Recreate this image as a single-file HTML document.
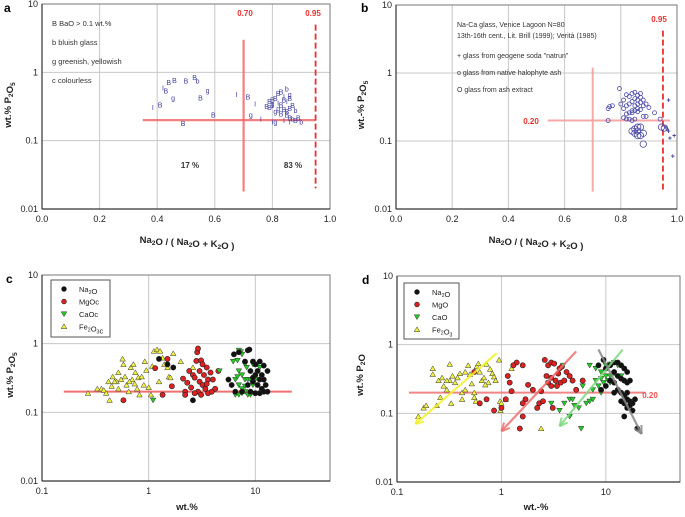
<!DOCTYPE html>
<html><head><meta charset="utf-8"><style>
body{margin:0;background:#fff;}
svg{display:block;font-family:"Liberation Sans",Arial,sans-serif;}
</style></head><body>
<svg id="fig" width="685" height="517" viewBox="0 0 685 517" xmlns="http://www.w3.org/2000/svg"></svg>
<script>
// ---------- DATA ----------
const aPts = [[0.53,0.85,'B'],[0.46,0.77,'B'],[0.44,0.72,'B'],[0.50,0.76,'B'],[0.54,0.76,'b'],[0.42,0.6,'I'],[0.43,0.54,'B'],[0.455,0.43,'g'],[0.575,0.55,'g'],[0.55,0.43,'B'],[0.675,0.48,'I'],[0.715,0.44,'B'],[0.74,0.35,'I'],[0.41,0.34,'B'],[0.385,0.31,'I'],[0.595,0.24,'B'],[0.725,0.24,'g'],[0.76,0.21,'I'],[0.49,0.18,'B'],
[0.78,0.32,'B'],[0.79,0.38,'B'],[0.80,0.40,'B'],[0.81,0.42,'B'],[0.80,0.35,'g'],[0.82,0.50,'B'],[0.83,0.52,'B'],[0.84,0.45,'I'],[0.85,0.58,'b'],[0.86,0.48,'g'],[0.86,0.42,'B'],[0.85,0.38,'I'],[0.83,0.34,'B'],[0.82,0.30,'g'],[0.84,0.29,'B'],[0.86,0.30,'B'],[0.87,0.33,'B'],[0.88,0.28,'b'],[0.81,0.27,'g'],[0.83,0.25,'B'],[0.85,0.24,'B'],[0.86,0.22,'B'],[0.87,0.21,'b'],[0.88,0.20,'B'],[0.89,0.22,'B'],[0.90,0.19,'b'],[0.80,0.19,'I'],[0.81,0.19,'g'],[0.84,0.20,'I'],[0.86,0.19,'I'],[0.85,0.27,'B'],[0.79,0.31,'B'],[0.82,0.36,'I'],[0.84,0.40,'B'],[0.80,0.33,'I']];
const bSmall = [[0.795,0.59],[0.755,0.30],[0.76,0.32],[0.77,0.33],[0.81,0.40],[0.82,0.48],[0.83,0.45],[0.84,0.50],[0.85,0.52],[0.86,0.47],[0.87,0.50],[0.85,0.42],[0.86,0.40],[0.84,0.38],[0.83,0.35],[0.82,0.33],[0.81,0.30],[0.85,0.33],[0.86,0.35],[0.87,0.37],[0.88,0.33],[0.89,0.35],[0.9,0.31],[0.84,0.28],[0.83,0.26],[0.82,0.25],[0.85,0.28],[0.86,0.30],[0.87,0.29],[0.88,0.23],[0.89,0.23],[0.92,0.26],[0.81,0.22],[0.82,0.21],[0.83,0.21],[0.84,0.20],[0.85,0.21],[0.755,0.20],[0.94,0.21],[0.84,0.26],[0.86,0.27],[0.80,0.35],[0.88,0.40],[0.87,0.44]];
const bLarge = [[0.85,0.15],[0.86,0.16],[0.87,0.16],[0.85,0.13],[0.86,0.12],[0.87,0.12],[0.88,0.13],[0.88,0.09],[0.84,0.14],[0.945,0.16],[0.955,0.155],[0.86,0.14]];
const bPlus = [[0.97,0.40],[0.96,0.16],[0.97,0.14],[0.975,0.11],[0.99,0.12],[0.985,0.06],[0.965,0.15]];
const cNa = [[1.25,0.60],[1.5,0.50],[1.7,0.45],[2.6,0.15],[5.6,0.30],[6.3,0.70],[7.0,0.75],[8.5,0.80],[8.8,0.82],[8.0,0.55],[9.5,0.55],[10,0.5],[11,0.55],[12,0.48],[13,0.40],[9,0.4],[10,0.35],[11,0.3],[12,0.3],[12.5,0.25],[9.5,0.28],[10.5,0.25],[11.5,0.22],[12,0.2],[9,0.2],[10,0.19],[11,0.19],[13,0.2],[9.5,0.32],[10.5,0.4],[11.5,0.35],[8.5,0.25],[6,0.25],[6.5,0.2],[7.5,0.2]];
const cMg = [[0.58,0.15],[1.15,0.44],[1.5,0.60],[1.35,0.18],[1.65,0.24],[2.1,0.31],[2.2,0.2],[2.2,0.18],[2.4,0.4],[2.6,0.35],[2.5,0.23],[2.8,0.56],[2.85,0.75],[2.9,0.85],[3.1,0.57],[3.2,0.5],[3.0,0.40],[3.3,0.35],[3.5,0.45],[3.6,0.3],[3.8,0.38],[4.0,0.3],[4.2,0.22],[4.5,0.4],[3.0,0.28],[3.2,0.25],[3.4,0.22],[2.9,0.2],[3.6,0.19],[3.9,0.2],[2.7,0.32],[3.1,0.18],[3.5,0.26],[2.3,0.27],[2.7,0.19]];
const cCa = [[1.1,0.15],[4.6,0.40],[6.2,0.55],[6.8,0.57],[7.0,0.80],[7.3,0.76],[7.5,0.70],[8,0.5],[8.3,0.45],[9.5,0.5],[10.5,0.5],[11,0.45],[7,0.4],[7.5,0.35],[8,0.3],[8.5,0.3],[9,0.3],[6.5,0.3],[7,0.25],[7.5,0.22],[8,0.2],[8.5,0.18],[9,0.18],[6.5,0.18],[7,0.18],[7.5,0.19],[8,0.24],[6.8,0.33],[9.5,0.25],[10,0.3]];
const cFe = [[0.27,0.19],[0.33,0.22],[0.36,0.22],[0.38,0.21],[0.4,0.19],[0.43,0.15],[0.45,0.24],[0.46,0.33],[0.5,0.28],[0.52,0.38],[0.55,0.3],[0.57,0.6],[0.58,0.5],[0.6,0.33],[0.62,0.25],[0.65,0.2],[0.68,0.45],[0.7,0.3],[0.72,0.5],[0.75,0.38],[0.78,0.22],[0.8,0.32],[0.82,0.18],[0.86,0.33],[0.9,0.25],[0.92,0.55],[0.95,0.41],[1.0,0.23],[1.05,0.18],[1.08,0.47],[1.12,0.78],[1.2,0.82],[1.28,0.78],[1.35,0.62],[1.4,0.5],[1.5,0.45],[1.55,0.33],[1.7,0.72],[2.0,0.55],[1.25,0.28],[1.6,0.32],[0.48,0.28],[0.52,0.22],[0.66,0.28],[0.74,0.26],[0.42,0.28],[2.6,0.45]];
const dNa = [[9.5,0.6],[8.5,0.5],[10,0.45],[11,0.5],[12,0.55],[13,0.55],[14,0.5],[15,0.45],[16,0.4],[12,0.4],[13,0.35],[14,0.32],[15,0.3],[16,0.28],[17,0.3],[11,0.3],[12,0.28],[10,0.25],[9,0.22],[13,0.22],[14,0.2],[15,0.18],[16,0.16],[17,0.15],[18,0.14],[19,0.16],[15,0.14],[16,0.12],[17,0.13],[18,0.11],[15,0.09],[20,0.06],[14,0.15],[16,0.2],[12,0.2]];
const dMg = [[0.62,0.14],[0.72,0.16],[0.85,0.11],[1.0,0.12],[1.1,0.16],[1.15,0.35],[1.2,0.28],[1.25,0.21],[1.4,0.55],[1.3,0.5],[1.6,0.5],[1.5,0.06],[1.6,0.09],[1.7,0.16],[1.6,0.14],[1.8,0.26],[2.0,0.22],[2.2,0.12],[2.3,0.14],[2.4,0.21],[2.6,0.6],[2.8,0.5],[3.0,0.55],[3.2,0.53],[2.7,0.35],[3.0,0.33],[3.3,0.3],[3.6,0.45],[3.8,0.48],[4.2,0.4],[4.5,0.35],[4.8,0.3],[3.5,0.38],[3.0,0.25],[3.4,0.25],[3.7,0.28],[4.0,0.3],[2.8,0.28],[5.2,0.22],[3.1,0.12],[2.5,0.15],[6,0.3],[0.55,0.4]];
const dCa = [[3.0,0.14],[3.6,0.11],[4.0,0.14],[4.5,0.16],[4.5,0.09],[5.0,0.13],[5.5,0.12],[6,0.25],[5.8,0.06],[6.5,0.14],[7,0.15],[7.5,0.16],[7,0.5],[8,0.45],[9,0.4],[10,0.5],[11,0.52],[12,0.55],[13,0.5],[8,0.3],[9,0.32],[10,0.35],[11,0.35],[12,0.38],[8.5,0.25],[9.5,0.28],[10.5,0.3],[7.5,0.22],[3.9,0.5],[4.8,0.16],[11,0.28],[9,0.2],[13,0.35],[14,0.35]];
const dFe = [[0.16,0.09],[0.18,0.12],[0.19,0.13],[0.22,0.45],[0.22,0.37],[0.24,0.13],[0.26,0.17],[0.27,0.33],[0.28,0.25],[0.3,0.22],[0.32,0.3],[0.33,0.14],[0.32,0.52],[0.34,0.35],[0.36,0.28],[0.38,0.33],[0.4,0.38],[0.42,0.2],[0.42,0.16],[0.45,0.4],[0.48,0.5],[0.5,0.37],[0.52,0.27],[0.55,0.17],[0.55,0.2],[0.58,0.48],[0.6,0.53],[0.62,0.4],[0.65,0.3],[0.68,0.33],[0.72,0.52],[0.75,0.28],[0.78,0.44],[0.82,0.38],[0.85,0.34],[0.88,0.3],[0.95,0.6],[0.97,0.15],[0.98,0.11],[1.0,0.14],[1.1,0.16],[1.25,0.45],[2.4,0.06],[0.57,0.15],[0.3,0.3],[0.25,0.3],[0.45,0.22],[0.7,0.26]];
const dArrows = [[0.9,0.75,0.15,0.07,'#f2f22a'],[5.2,0.8,1.0,0.055,'#f07070'],[14.5,0.85,3.6,0.065,'#7fd97f'],[8.5,0.85,22,0.05,'#888']];
const linTicks = ['0.0','0.2','0.4','0.6','0.8','1.0'];
const yTicks = ['0.01','0.1','1','10'];
const logXTicks = ['0.1','1','10'];

// ---------- HELPERS ----------
const NS='http://www.w3.org/2000/svg';
const svg=document.getElementById('fig');
function el(tag,attrs,parent,text){const e=document.createElementNS(NS,tag);for(const k in attrs)e.setAttribute(k,attrs[k]);if(text!==undefined)e.textContent=text;(parent||svg).appendChild(e);return e;}
function panel(name,L,R,T,B,xlog,xmin,xmax){
  const g=el('g',{});
  
  
  const sx=v=>xlog? L+(Math.log10(v)-Math.log10(xmin))/(Math.log10(xmax)-Math.log10(xmin))*(R-L) : L+(v-xmin)/(xmax-xmin)*(R-L);
  const sy=v=>B-(Math.log10(v)+2)/3*(B-T);
  return {g,sx,sy,L,R,T,B};
}
function frame(p,xt,xvals){
  const gr=el('g',{},p.g);
  
  
  xvals.forEach(v=>el('line',{x1:p.sx(v),x2:p.sx(v),y1:p.T,y2:p.B,stroke:'#c8c8c8','stroke-width':1},gr));
  yTicks.forEach(t=>el('line',{x1:p.L,x2:p.R,y1:p.sy(+t),y2:p.sy(+t),stroke:'#c8c8c8','stroke-width':1},gr));
  el('rect',{x:p.L,y:p.T,width:p.R-p.L,height:p.B-p.T,fill:'none',stroke:'#777','stroke-width':1},p.g);
  el('line',{x1:p.L,x2:p.L,y1:p.T,y2:p.B,stroke:'#333','stroke-width':1.2},p.g);
  el('line',{x1:p.L,x2:p.R,y1:p.B,y2:p.B,stroke:'#333','stroke-width':1.2},p.g);
  const yl=el('g',{},p.g);
  
  
  yTicks.forEach(t=>el('text',{x:p.L-4,y:p.sy(+t)+3,'text-anchor':'end','font-size':9,fill:'#222'},yl,t));
  const xl=el('g',{},p.g);
  
  
  xt.forEach(t=>el('text',{x:p.sx(+t),y:p.B+13,'text-anchor':'middle','font-size':9,fill:'#222'},xl,t));
}
function sub(parent,x,y,anchor,size,parts,fill,weight){
  const t=el('text',{x,y,'text-anchor':anchor||'start','font-size':size,fill:fill||'#222','font-weight':weight||'normal'},parent);
  parts.forEach(pp=>{el('tspan',pp[1]?{'font-size':size*0.7,dy:2}:{dy:0},t,pp[0]);if(pp[1]){el('tspan',{dy:-2},t,'');}});
  return t;
}
function circle(parent,cx,cy,fill,r){return el('circle',{cx,cy,r:r||2.6,fill,stroke:'#222','stroke-width':0.6},parent);}
function triDown(parent,cx,cy,fill){return el('polygon',{points:`${cx-2.8},${cy-2.2} ${cx+2.8},${cy-2.2} ${cx},${cy+2.6}`,fill,stroke:'#333','stroke-width':0.5},parent);}
function triUp(parent,cx,cy,fill){return el('polygon',{points:`${cx-2.8},${cy+2.2} ${cx+2.8},${cy+2.2} ${cx},${cy-2.6}`,fill,stroke:'#333','stroke-width':0.5},parent);}

// ---------- PANEL A ----------
(function(){
  const p=panel('panel-a',42,330,4,209,false,0,1);
  frame(p,linTicks,[0.2,0.4,0.6,0.8]);
  el('text',{x:4,y:12,'font-size':12,'font-weight':'bold'},p.g,'a');
  const lg=el('g',{},p.g);
  
  
  [['B  BaO > 0.1 wt.%',23],['b   bluish glass',42],['g   greenish, yellowish',61],['c   colourless',80]].forEach(r=>el('text',{x:52,y:r[1]+3,'font-size':7.5,fill:'#333','xml:space':'preserve'},lg,r[0]));
  const red='#e8302f';
  el('line',{x1:p.sx(0.35),x2:p.sx(0.95),y1:p.sy(0.2),y2:p.sy(0.2),stroke:'#f06a6a','stroke-width':2.2,opacity:0.85},p.g);
  el('line',{x1:p.sx(0.70),x2:p.sx(0.70),y1:p.sy(3),y2:p.sy(0.018),stroke:'#f06a6a','stroke-width':2.2,opacity:0.85},p.g);
  el('line',{x1:p.sx(0.95),x2:p.sx(0.95),y1:p.sy(5),y2:p.sy(0.02),stroke:red,'stroke-width':1.8,'stroke-dasharray':'6,3'},p.g);
  const pts=el('g',{},p.g);
  
  
  aPts.forEach(d=>el('text',{x:p.sx(d[0]),y:p.sy(d[1])+3,'text-anchor':'middle','font-size':7,fill:'#4040a0'},pts,d[2]));
  el('text',{x:245,y:16,'text-anchor':'middle','font-size':8,'font-weight':'bold',fill:red},p.g,'0.70');
  el('text',{x:313,y:16,'text-anchor':'middle','font-size':8,'font-weight':'bold',fill:red},p.g,'0.95');
  el('text',{x:190,y:168,'text-anchor':'middle','font-size':8,'font-weight':'bold',fill:'#333'},p.g,'17 %');
  el('text',{x:293,y:168,'text-anchor':'middle','font-size':8,'font-weight':'bold',fill:'#333'},p.g,'83 %');
  const yt=sub(p.g,0,0,'middle',9.5,[['wt.%  P'],['2',1],['O'],['5',1]],'#222','bold');
  yt.setAttribute('transform','rotate(-90) translate(-105,11)');
  
  sub(p.g,187,243,'middle',9.5,[['Na'],['2',1],['O / ( Na'],['2',1],['O + K'],['2',1],['O )']],'#222','bold');
})();

// ---------- PANEL B ----------
(function(){
  const p=panel('panel-b',396,677,5,209,false,0,1);
  frame(p,linTicks,[0.2,0.4,0.6,0.8]);
  el('text',{x:361,y:12,'font-size':12,'font-weight':'bold'},p.g,'b');
  const lg=el('g',{},p.g);
  
  
  [['Na-Ca glass, Venice Lagoon N=80',27],['13th-16th cent., Lit. Brill (1999); Verità (1985)',38],['+  glass from geogene soda "natrun"',58],['o  glass from native halophyte ash',75],['O  glass from ash extract',92]].forEach(r=>el('text',{x:457,y:r[1],'font-size':7,fill:'#333'},lg,r[0]));
  el('line',{x1:p.sx(0.54),x2:p.sx(0.975),y1:p.sy(0.2),y2:p.sy(0.2),stroke:'#f4a0a0','stroke-width':2,opacity:0.9},p.g);
  el('line',{x1:p.sx(0.70),x2:p.sx(0.70),y1:p.sy(1.2),y2:p.sy(0.018),stroke:'#f4a0a0','stroke-width':2,opacity:0.9},p.g);
  el('line',{x1:p.sx(0.95),x2:p.sx(0.95),y1:p.sy(4.2),y2:p.sy(0.018),stroke:'#e8302f','stroke-width':1.8,'stroke-dasharray':'6,3'},p.g);
  const s=el('g',{},p.g);
  
  
  bSmall.forEach(d=>el('circle',{cx:p.sx(d[0]),cy:p.sy(d[1]),r:2,fill:'none',stroke:'#4a4aa8','stroke-width':0.8},s));
  const l=el('g',{},p.g);
  
  
  bLarge.forEach(d=>el('circle',{cx:p.sx(d[0]),cy:p.sy(d[1]),r:3.2,fill:'none',stroke:'#4a4aa8','stroke-width':0.8},l));
  const pl=el('g',{},p.g);
  
  
  bPlus.forEach(d=>el('text',{x:p.sx(d[0]),y:p.sy(d[1])+2.5,'text-anchor':'middle','font-size':7,fill:'#3a3a9a','font-weight':'bold'},pl,'+'));
  el('text',{x:659,y:22,'text-anchor':'middle','font-size':8,'font-weight':'bold',fill:'#e8302f'},p.g,'0.95');
  el('text',{x:531,y:124,'text-anchor':'middle','font-size':8,'font-weight':'bold',fill:'#e8302f'},p.g,'0.20');
  const yt=sub(p.g,0,0,'middle',9.5,[['wt.-%  P'],['2',1],['O'],['5',1]],'#222','bold');
  yt.setAttribute('transform','rotate(-90) translate(-105,364)');
  
  sub(p.g,536,243,'middle',9.5,[['Na'],['2',1],['O / ( Na'],['2',1],['O + K'],['2',1],['O )']],'#222','bold');
})();

// ---------- PANEL C / D ----------
function logPanel(name,L,R,T,B,xmax,label,lx){
  const p=panel(name,L,R,T,B,true,0.1,xmax);
  frame(p,logXTicks,[1,10]);
  el('text',{x:lx,y:T+8,'font-size':12,'font-weight':'bold'},p.g,label);
  return p;
}
function drawSeries(p,arr,kind,fill,name){
  const g=el('g',{},p.g);
  
  
  arr.forEach(d=>{const x=p.sx(d[0]),y=p.sy(d[1]);if(kind==='c')circle(g,x,y,fill);else if(kind==='d')triDown(g,x,y,fill);else triUp(g,x,y,fill);});
}
function legend(p,x,y,w,h,names,name){
  const g=el('g',{},p.g);
  
  
  el('rect',{x,y,width:w,height:h,fill:'#fff',stroke:'#555','stroke-width':1},g);
  const fills=['#111','#e02020','#22cc22','#f0f040'],kinds=['c','c','d','u'];
  names.forEach((n,i)=>{const yy=y+9+i*12.5;
    if(kinds[i]==='c')circle(g,x+13,yy,fills[i],2.4);else if(kinds[i]==='d')triDown(g,x+13,yy,fills[i]);else triUp(g,x+13,yy,fills[i]);
    sub(g,x+28,yy+3,'start',7.5,n,'#222');});
}
(function(){
  const p=logPanel('panel-c',42,330,275,481,10**1.70,'c',6);
  el('line',{x1:p.sx(0.16),x2:p.sx(22),y1:p.sy(0.2),y2:p.sy(0.2),stroke:'#f06060','stroke-width':2,opacity:0.9},p.g);
  drawSeries(p,cFe,'u','#f0f040','series-fe2o3c');
  drawSeries(p,cMg,'c','#e02020','series-mgoc');
  drawSeries(p,cCa,'d','#22cc22','series-caoc');
  drawSeries(p,cNa,'c','#111','series-na2o');
  legend(p,51,280,59,57,[[['Na'],['2',1],['O']],[['MgOc']],[['CaOc']],[['Fe'],['2',1],['O'],['3',1],['c']]],'legend-c');
  const yt=sub(p.g,0,0,'middle',9.5,[['wt.%  P'],['2',1],['O'],['5',1]],'#222','bold');
  yt.setAttribute('transform','rotate(-90) translate(-375,13)');
  
  el('text',{x:187,y:510,'text-anchor':'middle','font-size':9.5,'font-weight':'bold',fill:'#222'},p.g,'wt.%');
})();
(function(){
  const p=logPanel('panel-d',397,680,276,482,10**1.71,'d',362);
  el('line',{x1:p.sx(0.13),x2:p.sx(24),y1:p.sy(0.2),y2:p.sy(0.2),stroke:'#f07070','stroke-width':2,opacity:0.85},p.g);
  drawSeries(p,dFe,'u','#f0f040','series-fe2o3');
  drawSeries(p,dMg,'c','#e02020','series-mgo');
  drawSeries(p,dCa,'d','#22cc22','series-cao');
  drawSeries(p,dNa,'c','#111','series-na2o-d');
  const ag=el('g',{},p.g);
  
  
  dArrows.forEach(a=>{const x1=p.sx(a[0]),y1=p.sy(a[1]),x2=p.sx(a[2]),y2=p.sy(a[3]);
    el('line',{x1,y1,x2,y2,stroke:a[4],'stroke-width':2.2,opacity:0.85},ag);
    const ang=Math.atan2(y2-y1,x2-x1),L=9;
    [0.45,-0.45].forEach(o=>el('line',{x1:x2,y1:y2,x2:x2-L*Math.cos(ang+o),y2:y2-L*Math.sin(ang+o),stroke:a[4],'stroke-width':2,opacity:0.85},ag));});
  el('text',{x:650,y:398,'text-anchor':'middle','font-size':8,'font-weight':'bold',fill:'#f05050'},p.g,'0.20');
  legend(p,404,283,55,56,[[['Na'],['2',1],['O']],[['MgO']],[['CaO']],[['Fe'],['2',1],['O'],['3',1]]],'legend-d');
  const yt=sub(p.g,0,0,'middle',9.5,[['wt.% P'],['2',1],['O']],'#222','bold');
  yt.setAttribute('transform','rotate(-90) translate(-375,363)');
  
  el('text',{x:536,y:510,'text-anchor':'middle','font-size':9.5,'font-weight':'bold',fill:'#222'},p.g,'wt.-%');
})();
</script>
</body></html>
